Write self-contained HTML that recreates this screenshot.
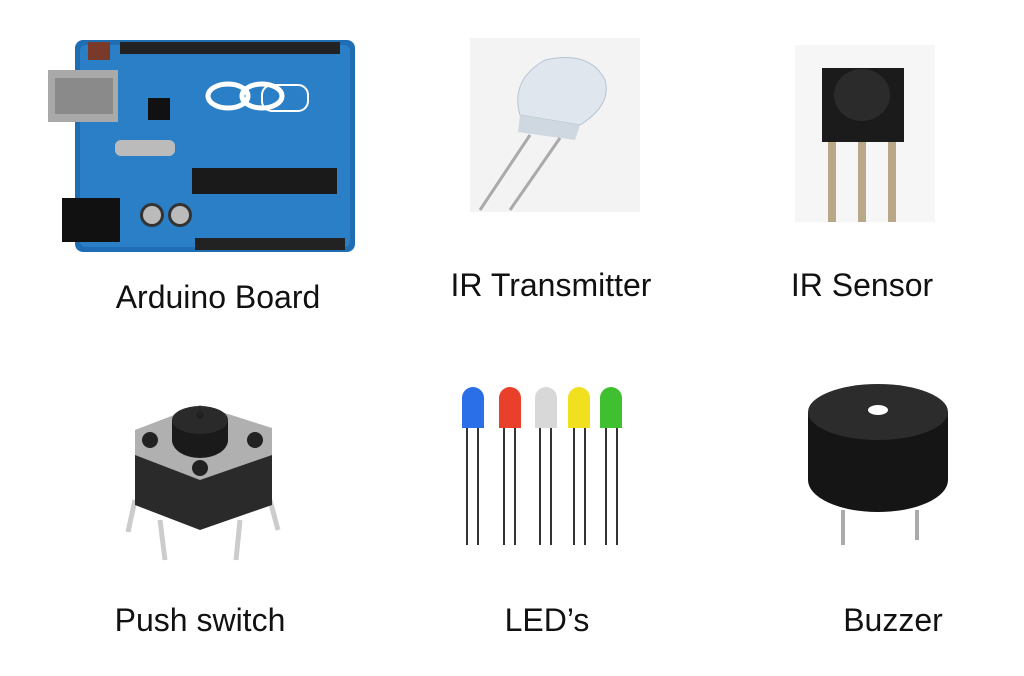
<!DOCTYPE html>
<html><head><meta charset="utf-8"><style>
html,body{margin:0;padding:0;background:#fff;width:1024px;height:676px;overflow:hidden}
.l{position:absolute;font-family:"Liberation Sans",sans-serif;font-size:32px;color:#111;white-space:nowrap;transform:translateX(-50%)}
svg{position:absolute;left:0;top:0}
</style></head><body>
<svg width="1024" height="676" viewBox="0 0 1024 676">
<rect x="75" y="40" width="280" height="212" rx="8" fill="#1f6eb4"/>
<rect x="80" y="45" width="270" height="202" rx="6" fill="#2a7fc6"/>
<rect x="48" y="70" width="70" height="52" fill="#a9a9a9"/>
<rect x="55" y="78" width="58" height="36" fill="#8a8a8a"/>
<rect x="62" y="198" width="58" height="44" fill="#111"/>
<rect x="120" y="42" width="220" height="12" fill="#222"/>
<rect x="195" y="238" width="150" height="12" fill="#222"/>
<rect x="192" y="168" width="145" height="26" fill="#1a1a1a"/>
<rect x="148" y="98" width="22" height="22" fill="#111"/>
<rect x="115" y="140" width="60" height="16" rx="6" fill="#bbb"/>
<circle cx="152" cy="215" r="12" fill="#333"/><circle cx="180" cy="215" r="12" fill="#333"/>
<circle cx="152" cy="215" r="9" fill="#bbb"/><circle cx="180" cy="215" r="9" fill="#bbb"/>
<rect x="88" y="42" width="22" height="18" fill="#7a3a2a"/>
<ellipse cx="228" cy="96" rx="20" ry="12" fill="none" stroke="#fff" stroke-width="5"/>
<ellipse cx="262" cy="96" rx="20" ry="12" fill="none" stroke="#fff" stroke-width="5"/>
<rect x="262" y="85" width="46" height="26" rx="10" fill="none" stroke="#fff" stroke-width="2"/>
<rect x="470" y="38" width="170" height="174" fill="#f3f3f3"/>
<path d="M520 115 Q510 80 545 60 Q590 50 605 80 Q612 105 580 125 Z" fill="#dfe6ee" stroke="#b8c4d0"/>
<path d="M520 115 L580 125 L575 140 L518 132 Z" fill="#cfd7e0"/>
<line x1="530" y1="135" x2="480" y2="210" stroke="#aaa" stroke-width="3"/>
<line x1="560" y1="138" x2="510" y2="210" stroke="#aaa" stroke-width="3"/>
<rect x="795" y="45" width="140" height="177" fill="#f6f6f6"/>
<rect x="822" y="68" width="82" height="74" fill="#1b1b1b"/>
<ellipse cx="862" cy="95" rx="28" ry="26" fill="#2b2b2b"/>
<rect x="828" y="142" width="8" height="80" fill="#b8a888"/>
<rect x="858" y="142" width="8" height="80" fill="#b8a888"/>
<rect x="888" y="142" width="8" height="80" fill="#b8a888"/>
<line x1="135" y1="500" x2="128" y2="532" stroke="#ccc" stroke-width="5"/>
<line x1="270" y1="500" x2="278" y2="530" stroke="#ccc" stroke-width="5"/>
<line x1="160" y1="520" x2="165" y2="560" stroke="#ccc" stroke-width="5"/>
<line x1="240" y1="520" x2="236" y2="560" stroke="#ccc" stroke-width="5"/>
<path d="M135 455 L200 430 L272 452 L272 505 L200 530 L135 505 Z" fill="#2a2a2a"/>
<path d="M135 430 L200 405 L272 428 L272 455 L200 480 L135 455 Z" fill="#b0b0b0"/>
<ellipse cx="200" cy="440" rx="28" ry="18" fill="#1a1a1a"/>
<rect x="172" y="420" width="56" height="22" fill="#1a1a1a"/>
<ellipse cx="200" cy="420" rx="28" ry="14" fill="#2a2a2a"/>
<circle cx="150" cy="440" r="8" fill="#222"/><circle cx="255" cy="440" r="8" fill="#222"/>
<circle cx="200" cy="415" r="4" fill="#222"/><circle cx="200" cy="468" r="8" fill="#222"/>
<g stroke="#333" stroke-width="2">
<line x1="467" y1="425" x2="467" y2="545"/><line x1="478" y1="425" x2="478" y2="545"/>
<line x1="504" y1="425" x2="504" y2="545"/><line x1="515" y1="425" x2="515" y2="545"/>
<line x1="540" y1="425" x2="540" y2="545"/><line x1="551" y1="425" x2="551" y2="545"/>
<line x1="574" y1="425" x2="574" y2="545"/><line x1="585" y1="425" x2="585" y2="545"/>
<line x1="606" y1="425" x2="606" y2="545"/><line x1="617" y1="425" x2="617" y2="545"/>
</g>
<path d="M462 428 V398 a11 11 0 0 1 22 0 V428 Z" fill="#2a6ee8"/>
<path d="M499 428 V398 a11 11 0 0 1 22 0 V428 Z" fill="#e8402a"/>
<path d="M535 428 V398 a11 11 0 0 1 22 0 V428 Z" fill="#d8d8d8"/>
<path d="M568 428 V398 a11 11 0 0 1 22 0 V428 Z" fill="#f0e020"/>
<path d="M600 428 V398 a11 11 0 0 1 22 0 V428 Z" fill="#40c030"/>
<line x1="843" y1="510" x2="843" y2="545" stroke="#aaa" stroke-width="4"/>
<line x1="917" y1="510" x2="917" y2="540" stroke="#aaa" stroke-width="4"/>
<path d="M808 412 L808 480 A70 32 0 0 0 948 480 L948 412 Z" fill="#151515"/>
<ellipse cx="878" cy="412" rx="70" ry="28" fill="#2c2c2c"/>
<ellipse cx="878" cy="410" rx="10" ry="5" fill="#fff"/>
</svg>
<div class="l" style="left:218px;top:279px">Arduino Board</div>
<div class="l" style="left:551px;top:267px">IR Transmitter</div>
<div class="l" style="left:862px;top:267px">IR Sensor</div>
<div class="l" style="left:200px;top:602px">Push switch</div>
<div class="l" style="left:547px;top:602px">LED’s</div>
<div class="l" style="left:893px;top:602px">Buzzer</div>
</body></html>
